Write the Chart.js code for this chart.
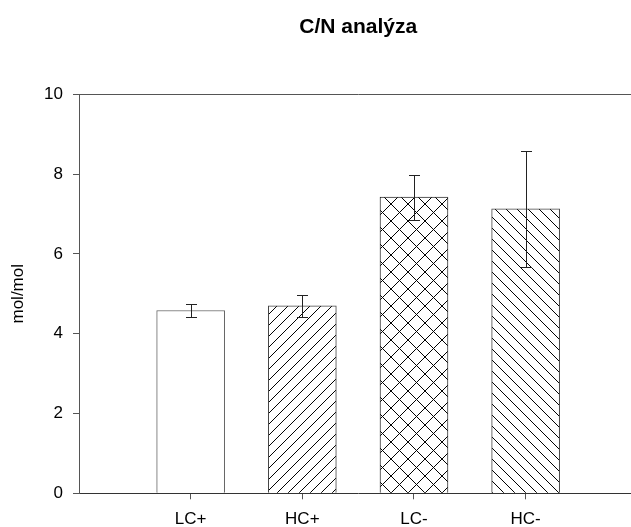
<!DOCTYPE html>
<html>
<head>
<meta charset="utf-8">
<script src="https://cdn.jsdelivr.net/npm/chart.js@4/dist/chart.umd.min.js"></script>
<style>
  html, body { margin: 0; padding: 0; background: #fff; overflow: hidden; }
  #wrap { width: 631px; height: 527px; overflow: hidden; }
  #wrap canvas { display: block; }
</style>
</head>
<body>
<div id="wrap"><canvas id="cn-chart" width="660" height="527"></canvas></div>
<script>
// C/N analýza - sloupcový graf s chybovými úsečkami
const categories = ['LC+', 'HC+', 'LC-', 'HC-'];
const means = [4.58, 4.70, 7.42, 7.13];
const errors = [0.17, 0.28, 0.56, 1.45];
const yTicks = [0, 2, 4, 6, 8, 10];

// šrafování sloupců
function makeHatch(kind, size) {
    const c = document.createElement('canvas');
    c.width = size;
    c.height = size;
    const g = c.getContext('2d');
    g.fillStyle = '#fff';
    g.fillRect(0, 0, size, size);
    g.strokeStyle = '#000';
    g.lineWidth = 1;
    g.beginPath();
    if (kind === 'fwd' || kind === 'cross') {
        g.moveTo(-1, size + 1);
        g.lineTo(size + 1, -1);
    }
    if (kind === 'back' || kind === 'cross') {
        g.moveTo(-1, -1);
        g.lineTo(size + 1, size + 1);
    }
    g.stroke();
    return g.createPattern(c, 'repeat');
}

const fills = ['#ffffff', makeHatch('fwd', 11), makeHatch('cross', 17), makeHatch('back', 11)];
const borders = ['#666', '#444', '#333', '#444'];

// jedna prázdná pozice na každé straně osy x
const labels = [''].concat(categories, ['']);
const pad = arr => [null].concat(arr, [null]);

// chybové úsečky
const errorBars = {
    id: 'errorBars',
    afterDatasetsDraw(chart) {
        const ctx = chart.ctx;
        const y = chart.scales.y;
        const meta = chart.getDatasetMeta(0);
        ctx.save();
        ctx.strokeStyle = '#222';
        ctx.lineWidth = 1;
        means.forEach((m, i) => {
            const bar = meta.data[i + 1];
            const x = Math.round(bar.x) + 0.5;
            const top = Math.round(y.getPixelForValue(m + errors[i])) + 0.5;
            const bot = Math.round(y.getPixelForValue(m - errors[i])) + 0.5;
            ctx.beginPath();
            ctx.moveTo(x, top); ctx.lineTo(x, bot);
            ctx.moveTo(x - 5.5, top); ctx.lineTo(x + 5.5, top);
            ctx.moveTo(x - 5.5, bot); ctx.lineTo(x + 5.5, bot);
            ctx.stroke();
        });
        ctx.restore();
    }
};

const ctx = document.getElementById('cn-chart').getContext('2d');
const chart = new Chart(ctx, {
    type: 'bar',
    data: {
        labels: labels,
        datasets: [{
            data: pad(means),
            backgroundColor: pad(fills),
            borderColor: pad(borders),
            borderWidth: 1,
            barThickness: 68
        }]
    },
    options: {
        responsive: false,
        animation: false,
        layout: { padding: { top: 0, right: 22.7, bottom: 0, left: 0 } },
        scales: {
            x: {
                offset: false,
                afterFit: s => { s.height = 527 - 493.3; },
                grid: {
                    offset: false,
                    drawOnChartArea: true,
                    color: c => c.index === 5 ? '#555' : 'rgba(0,0,0,0)',
                    tickColor: c => (c.index === 0 || c.index === 5) ? 'rgba(0,0,0,0)' : '#555',
                    tickLength: 6
                },
                border: { color: '#333', width: 1 },
                ticks: {
                    color: '#000',
                    padding: 10,
                    maxRotation: 0,
                    autoSkip: false,
                    font: { family: '"Liberation Sans", Arial, sans-serif', size: 17 }
                }
            },
            y: {
                min: 0,
                max: 10,
                afterBuildTicks: s => { s.ticks = yTicks.map(v => ({ value: v })); },
                afterFit: s => { s.width = 79; },
                grid: {
                    color: c => c.tick && c.tick.value === 10 ? '#555' : 'rgba(0,0,0,0)',
                    tickColor: '#555',
                    tickLength: 6
                },
                border: { color: '#555', width: 1 },
                ticks: {
                    color: '#000',
                    padding: 10,
                    font: { family: '"Liberation Sans", Arial, sans-serif', size: 17 }
                },
                title: {
                    display: true,
                    text: 'mol/mol',
                    color: '#000',
                    padding: { top: 8, bottom: 0 },
                    font: { family: '"Liberation Sans", Arial, sans-serif', size: 17 }
                }
            }
        },
        plugins: {
            legend: { display: false },
            tooltip: { enabled: false },
            title: {
                display: true,
                fullSize: false,
                text: 'C/N analýza',
                color: '#000',
                padding: { top: 15, bottom: 54 },
                font: { family: '"Liberation Sans", Arial, sans-serif', size: 21, weight: 'bold' }
            }
        }
    },
    plugins: [errorBars]
});
</script>
</body>
</html>
